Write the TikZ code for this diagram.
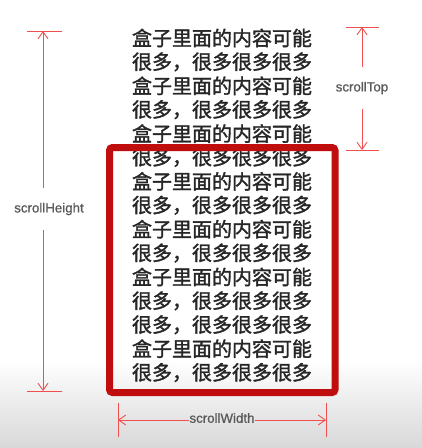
\documentclass[tikz,border=0pt]{standalone}
\usepackage{fontspec}
\setmainfont{Liberation Sans}
\newfontfamily\cjk[FakeBold=1.6]{Noto Sans CJK SC}
\newfontfamily\labfont[FakeBold=0.8]{Liberation Sans}
\usetikzlibrary{arrows.meta}
\definecolor{dimred}{RGB}{238,80,80}
\definecolor{boxred}{RGB}{192,14,14}
\definecolor{txt}{RGB}{38,38,38}
\definecolor{lab}{RGB}{90,90,90}
\definecolor{floor}{RGB}{216,216,216}
\begin{document}
\begin{tikzpicture}[x=1pt,y=-1pt,
  dim/.style={draw=dimred, line width=0.9pt},
  tipd/.style={dim, -{Straight Barb[length=7pt,width=10pt]}},
  lbl/.style={text=lab, font=\labfont\fontsize{13.3}{15}\selectfont, inner sep=0pt},
  line/.style={text=txt, font=\cjk\fontsize{20}{22}\selectfont, inner sep=0pt, anchor=center},
  boxstyle/.style={draw=boxred, line width=7pt, rounded corners=3pt, inner sep=0pt}]
\useasboundingbox (0,0) rectangle (422,448);
\fill[white] (0,0) rectangle (422,448);
\shade[top color=white, bottom color=floor] (0,360) rectangle (422,448);
% text lines
\foreach \i/\t in {1/A,2/B,3/A,4/B,5/A,6/B,7/A,8/B,9/A,10/B,11/A,12/B,13/B,14/A,15/B}{
  \pgfmathsetmacro{\yy}{38+(\i-1)*23.9}
  \if\t A
    \node[line] (l\i) at (222,\yy) {盒子里面的内容可能};
  \else
    \node[line] (l\i) at (222,\yy) {很多，很多很多很多};
  \fi
}
% box
\node[boxstyle, minimum width=225.5pt, minimum height=245pt] (box) at (222.25,270) {};
% scrollHeight
\coordinate (hT) at (43,31);
\coordinate (hB) at (43,391);
\coordinate (hT1) at (27,31); \coordinate (hT2) at (62,31);
\coordinate (hB1) at (27,391); \coordinate (hB2) at (62,391);
\draw[dim] (hT1) -- (hT2);
\draw[dim] (hB1) -- (hB2);
\node[lbl, minimum height=42pt] (hL) at (49,209) {scrollHeight};
\draw[tipd] (hT |- hL.north) -- (hT);
\draw[tipd] (hB |- hL.south) -- (hB);
% scrollTop
\coordinate (tT) at (362,27);
\coordinate (tB) at (362,150);
\coordinate (tT1) at (346,27); \coordinate (tT2) at (379,27);
\coordinate (tB1) at (346,150); \coordinate (tB2) at (379,150);
\draw[dim] (tT1) -- (tT2);
\draw[dim] (tB1) -- (tB2);
\node[lbl, minimum height=42pt] (tL) at (362,88) {scrollTop};
\draw[tipd] (tL.north) -- (tT);
\draw[tipd] (tL.south) -- (tB);
% scrollWidth
\coordinate (wL) at (118,420);
\coordinate (wR) at (326,420);
\coordinate (wL1) at (118,403); \coordinate (wL2) at (118,437);
\coordinate (wR1) at (326,403); \coordinate (wR2) at (326,437);
\draw[dim] (wL1) -- (wL2);
\draw[dim] (wR1) -- (wR2);
\node[lbl] (wT) at (222,418) {scrollWidth};
\draw[tipd] (wT.west |- wL) -- (wL);
\draw[tipd] (wT.east |- wR) -- (wR);
\end{tikzpicture}
\end{document}
